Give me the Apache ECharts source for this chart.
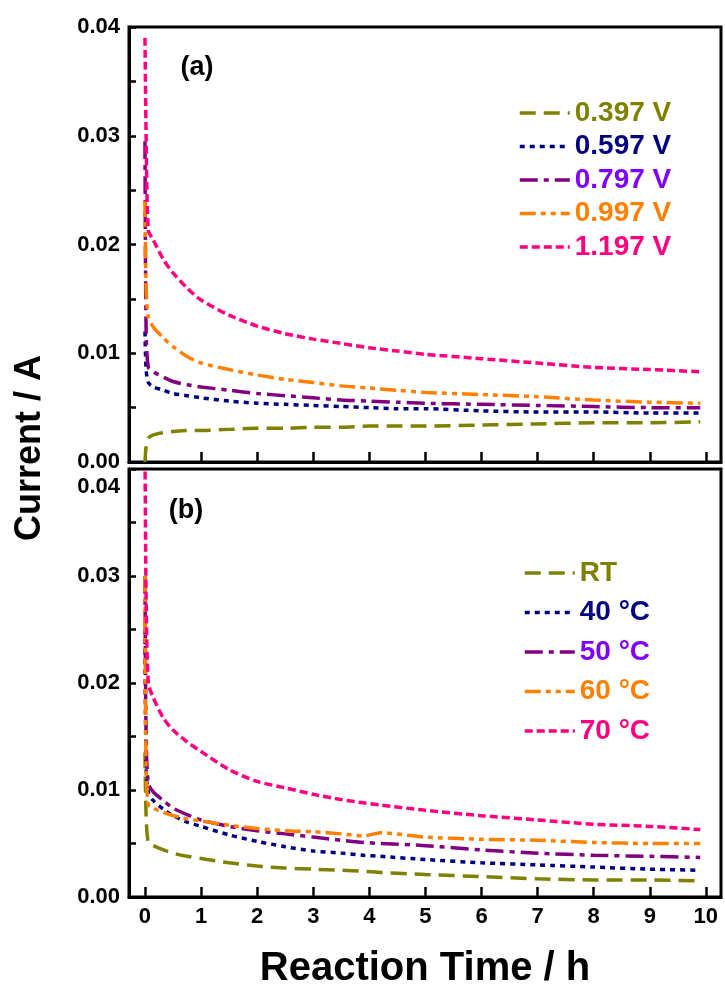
<!DOCTYPE html>
<html>
<head>
<meta charset="utf-8">
<script src="https://cdn.jsdelivr.net/npm/echarts@6/dist/echarts.min.js"></script>
<style>
  html, body { margin: 0; padding: 0; background: #fff; }
  #chart { width: 725px; height: 990px; }
</style>
</head>
<body>
<div id="chart"></div>
<script>
// ---- (a) current vs. time at different applied voltages ----
const timeA = [0, 0.02, 0.06, 0.15, 0.33, 0.5, 0.75, 1, 1.5, 2, 2.5, 3, 3.5, 4, 4.5, 5, 6, 7, 8, 9, 9.9];
const volt0397 = [0, 0.0014, 0.0022, 0.0025, 0.0027, 0.0028, 0.0029, 0.0029, 0.0030, 0.0031, 0.0031, 0.0032, 0.0032, 0.0033, 0.0033, 0.0033, 0.0034, 0.0035, 0.0036, 0.0036, 0.0037];
const volt0597 = [0.012, 0.0085, 0.0073, 0.0069, 0.0066, 0.0063, 0.0061, 0.0059, 0.0056, 0.0054, 0.0053, 0.0052, 0.0051, 0.0050, 0.0049, 0.0049, 0.0047, 0.0046, 0.0046, 0.0045, 0.0045];
const volt0797 = [0.0295, 0.012, 0.0087, 0.0083, 0.0078, 0.0074, 0.0071, 0.0069, 0.0066, 0.0063, 0.0061, 0.0059, 0.0057, 0.0056, 0.0055, 0.0054, 0.0053, 0.0052, 0.0051, 0.0050, 0.0050];
const volt0997 = [0.024, 0.016, 0.0133, 0.0124, 0.0114, 0.0106, 0.0097, 0.0091, 0.0085, 0.0080, 0.0076, 0.0073, 0.0070, 0.0068, 0.0066, 0.0064, 0.0062, 0.0060, 0.0057, 0.0055, 0.0054];
const volt1197 = [0.039, 0.030, 0.0213, 0.0204, 0.0186, 0.0174, 0.0160, 0.0149, 0.0135, 0.0125, 0.0118, 0.0113, 0.0109, 0.0105, 0.0102, 0.0099, 0.0095, 0.0091, 0.0087, 0.0085, 0.0083];

// ---- (b) current vs. time at different temperatures ----
const timeB = [0, 0.02, 0.06, 0.15, 0.33, 0.5, 0.75, 1, 1.5, 2, 2.5, 3, 3.5, 3.9, 4.2, 5, 6, 7, 8, 9, 9.9];
const tempRT = [0.0135, 0.0075, 0.0051, 0.0048, 0.0044, 0.0041, 0.0038, 0.0036, 0.0032, 0.0029, 0.0027, 0.0026, 0.0025, 0.0024, 0.0023, 0.0021, 0.0019, 0.0017, 0.0016, 0.0016, 0.0015];
const temp40 = [0.025, 0.012, 0.0098, 0.0090, 0.0082, 0.0076, 0.0070, 0.0066, 0.0058, 0.0052, 0.0047, 0.0043, 0.0041, 0.0039, 0.0038, 0.0035, 0.0032, 0.0030, 0.0028, 0.0026, 0.0025];
const temp50 = [0.030, 0.015, 0.0106, 0.0098, 0.0090, 0.0083, 0.0077, 0.0072, 0.0066, 0.0062, 0.0059, 0.0056, 0.0053, 0.0051, 0.0050, 0.0048, 0.0044, 0.0041, 0.0039, 0.0038, 0.0037];
const temp60 = [0.030, 0.012, 0.0086, 0.0083, 0.0079, 0.0076, 0.0073, 0.0071, 0.0067, 0.0064, 0.0062, 0.0061, 0.0059, 0.0057, 0.0060, 0.0056, 0.0054, 0.0053, 0.0051, 0.0050, 0.0050];
const temp70 = [0.042, 0.028, 0.0200, 0.0186, 0.0167, 0.0156, 0.0145, 0.0136, 0.0119, 0.0108, 0.0102, 0.0096, 0.0091, 0.0088, 0.0086, 0.0081, 0.0076, 0.0072, 0.0068, 0.0066, 0.0063];

// ---- axis ticks and labels ----
const xTicks = [0, 1, 2, 3, 4, 5, 6, 7, 8, 9, 10];
const yLabelValues = [0, 0.01, 0.02, 0.03, 0.04];
const yTickValues = [0, 0.005, 0.01, 0.015, 0.02, 0.025, 0.03, 0.035, 0.04];

const namesA = ['0.397 V', '0.597 V', '0.797 V', '0.997 V', '1.197 V'];
const namesB = ['RT', '40 \u00B0C', '50 \u00B0C', '60 \u00B0C', '70 \u00B0C'];

const FONT = '"Liberation Sans", Arial, Helvetica, sans-serif';
const lineColors = ['#808000', '#000080', '#800080', '#ff8000', '#ff0080'];
const textColors = ['#808000', '#000080', '#8000ff', '#ff8000', '#ff0080'];
const dashes = [[16, 8], [5, 5], [18, 6, 5, 6], [16, 5, 5, 5, 5, 5], [8, 4]];

function pairs(t, v) { return t.map((x, i) => [x, v[i]]); }

const seriesA = [volt0397, volt0597, volt0797, volt0997, volt1197];
const seriesB = [tempRT, temp40, temp50, temp60, temp70];

function makeSeries(names, times, values, idx) {
  return names.map((n, i) => ({
    name: n,
    type: 'line',
    xAxisIndex: idx,
    yAxisIndex: idx,
    data: pairs(times, values[i]),
    symbol: 'none',
    smooth: 0.25,
    lineStyle: { color: lineColors[i], width: 3.5, type: dashes[i] },
    itemStyle: { color: lineColors[i] },
    z: 2 + i
  }));
}

function xAxisDef(idx) {
  return {
    gridIndex: idx,
    type: 'value',
    min: -0.285,
    max: 10.27,
    name: idx === 1 ? 'Reaction Time / h' : '',
    nameLocation: 'middle',
    nameGap: 52,
    nameTextStyle: { fontFamily: FONT, fontWeight: 'bold', fontSize: 40, color: '#000' },
    axisLine: { show: true, onZero: false, lineStyle: { color: '#000', width: 3 } },
    axisTick: { show: true, inside: true, length: 10, customValues: xTicks, lineStyle: { color: '#000', width: 2.5 } },
    axisLabel: {
      show: idx === 1, customValues: xTicks, margin: 9,
      fontFamily: FONT, fontWeight: 'bold', fontSize: 22, color: '#000'
    },
    splitLine: { show: false }
  };
}

function yAxisDef(idx) {
  return {
    gridIndex: idx,
    type: 'value',
    min: 0,
    max: 0.04,
    axisLine: { show: true, onZero: false, lineStyle: { color: '#000', width: 3 } },
    axisTick: { show: true, inside: true, length: 7, customValues: yTickValues, lineStyle: { color: '#000', width: 2.5 } },
    axisLabel: {
      customValues: yLabelValues, margin: 9,
      fontFamily: FONT, fontWeight: 'bold', fontSize: 22, color: '#000',
      formatter: v => (idx === 1 && v > 0.0395) ? '{low|' + v.toFixed(2) + '}' : v.toFixed(2),
      rich: {
        low: { padding: [36, 0, 0, 0], fontFamily: FONT, fontWeight: 'bold', fontSize: 22, color: '#000' }
      }
    },
    splitLine: { show: false }
  };
}

function legendDef(names, left, top, gap) {
  return {
    data: names.map((n, i) => ({ name: n, textStyle: { color: textColors[i] } })),
    orient: 'vertical',
    left: left,
    top: top,
    itemWidth: 50,
    itemHeight: 14,
    itemGap: gap,
    selectedMode: false,
    itemStyle: { opacity: 0 },
    lineStyle: { width: 3.5 },
    textStyle: { fontFamily: FONT, fontWeight: 'bold', fontSize: 28, lineHeight: 30 }
  };
}

const chart = echarts.init(document.getElementById('chart'), null, { renderer: 'canvas' });
chart.setOption({
  animation: false,
  backgroundColor: '#fff',
  grid: [
    { left: 129, top: 27, width: 592, height: 435, show: true, borderColor: '#000', borderWidth: 3, backgroundColor: 'transparent' },
    { left: 129, top: 469, width: 592, height: 437, show: true, borderColor: '#000', borderWidth: 3, backgroundColor: 'transparent' }
  ],
  xAxis: [xAxisDef(0), xAxisDef(1)],
  yAxis: [yAxisDef(0), yAxisDef(1)],
  legend: [legendDef(namesA, 513, 93, 3.5), legendDef(namesB, 518, 553, 9.5)],
  graphic: [
    { type: 'text', x: 30, y: 448, rotation: Math.PI / 2,
      style: { text: 'Current / A', font: 'bold 36px ' + FONT, fill: '#000', align: 'center', verticalAlign: 'middle' } },
    { type: 'text', x: 197, y: 68,
      style: { text: '(a)', font: 'bold 27px ' + FONT, fill: '#000', align: 'center', verticalAlign: 'middle' } },
    { type: 'text', x: 186, y: 511,
      style: { text: '(b)', font: 'bold 27px ' + FONT, fill: '#000', align: 'center', verticalAlign: 'middle' } }
  ],
  series: makeSeries(namesA, timeA, seriesA, 0).concat(makeSeries(namesB, timeB, seriesB, 1))
});
</script>
</body>
</html>
